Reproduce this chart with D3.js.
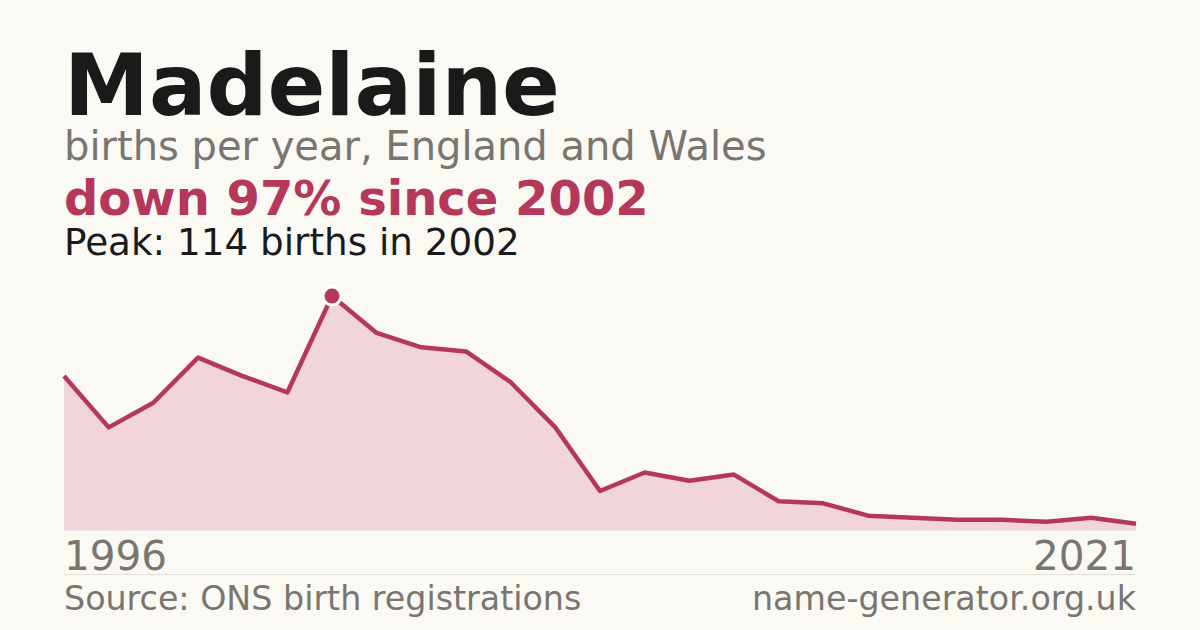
<!DOCTYPE html>
<html>
<head>
<meta charset="utf-8">
<script src="https://cdn.jsdelivr.net/npm/d3@7"></script>
<style>
html,body{margin:0;padding:0;background:#faf9f4;}
svg{display:block;}
text{font-family:"DejaVu Sans",sans-serif;}
</style>
</head>
<body>
<svg id="chart" width="1200" height="630"></svg>
<script>
// Data (2020 not reported: fewer than 3 births)
const years = [1996,1997,1998,1999,2000,2001,2002,2003,2004,2005,2006,2007,2008,2009,2010,2011,2012,2013,2014,2015,2016,2017,2018,2019,2021];
const births = [75,50,62,84,75,67,114,96,89,87,72,50,19,28,24,27,14,13,7,6,5,5,4,6,3];
const nameTitle = "Madelaine";
const subtitle = "births per year, England and Wales";
const headline = "down 97% since 2002";
const peakText = "Peak: 114 births in 2002";
const xTickLabels = ["1996","2021"];
const sourceText = "Source: ONS birth registrations";
const siteText = "name-generator.org.uk";

(function(){
const svg = d3.select("#chart");
const W = 1200, H = 630;
svg.append("rect").attr("width",W).attr("height",H).attr("fill","#faf9f4");

const mLeft = 64, mRight = 1136, mTop = 296, mBottom = 530;
const red = "#b5385a";

const data = years.map((y,i)=>({year:y, value:births[i]}));
const x = d3.scalePoint().domain(years).range([mLeft,mRight]);
const y = d3.scaleLinear().domain([0, d3.max(births)]).range([mBottom, mTop]);

// Texts
svg.append("text").attr("x",mLeft).attr("y",115).attr("font-size",85.3).attr("font-weight","bold").attr("fill","#1a1a1a").text(nameTitle);
svg.append("text").attr("x",mLeft).attr("y",160).attr("font-size",40).attr("fill","#7a756e").text(subtitle);
svg.append("text").attr("x",mLeft).attr("y",215).attr("font-size",48).attr("font-weight","bold").attr("fill",red).text(headline);
svg.append("text").attr("x",mLeft).attr("y",255).attr("font-size",37.3).attr("fill","#1a1a1a").text(peakText);

// Area + line
const area = d3.area().x(d=>x(d.year)).y0(mBottom).y1(d=>y(d.value));
const line = d3.line().x(d=>x(d.year)).y(d=>y(d.value));
svg.append("path").datum(data).attr("d",area).attr("fill","#f1d5db");
svg.append("line").attr("x1",mLeft).attr("x2",mRight).attr("y1",mBottom).attr("y2",mBottom).attr("stroke","#e8dcdc").attr("stroke-width",1);
svg.append("path").datum(data).attr("d",line).attr("fill","none").attr("stroke",red).attr("stroke-width",4.5).attr("stroke-linejoin","round");

// Peak marker
const peak = data.reduce((a,b)=>b.value>a.value?b:a);
svg.append("circle").attr("cx",x(peak.year)).attr("cy",y(peak.value)).attr("r",9)
  .attr("fill",red).attr("stroke","#ffffff").attr("stroke-width",3);

// X labels
const xAxisG = svg.append("g");
xAxisG.append("text").attr("x",mLeft).attr("y",570).attr("font-size",40.5).attr("fill","#7a756e").attr("text-anchor","start").text(xTickLabels[0]);
xAxisG.append("text").attr("x",mRight).attr("y",570).attr("font-size",40.5).attr("fill","#7a756e").attr("text-anchor","end").text(xTickLabels[1]);

// Separator
svg.append("line").attr("x1",mLeft).attr("x2",mRight).attr("y1",574.5).attr("y2",574.5).attr("stroke","#e2dfd8").attr("stroke-width",1);

// Footer
svg.append("text").attr("x",mLeft).attr("y",610).attr("font-size",33.3).attr("fill","#7a756e").text(sourceText);
svg.append("text").attr("x",mRight).attr("y",610).attr("font-size",33.3).attr("fill","#7a756e").attr("text-anchor","end").text(siteText);
})();
</script>
</body>
</html>
